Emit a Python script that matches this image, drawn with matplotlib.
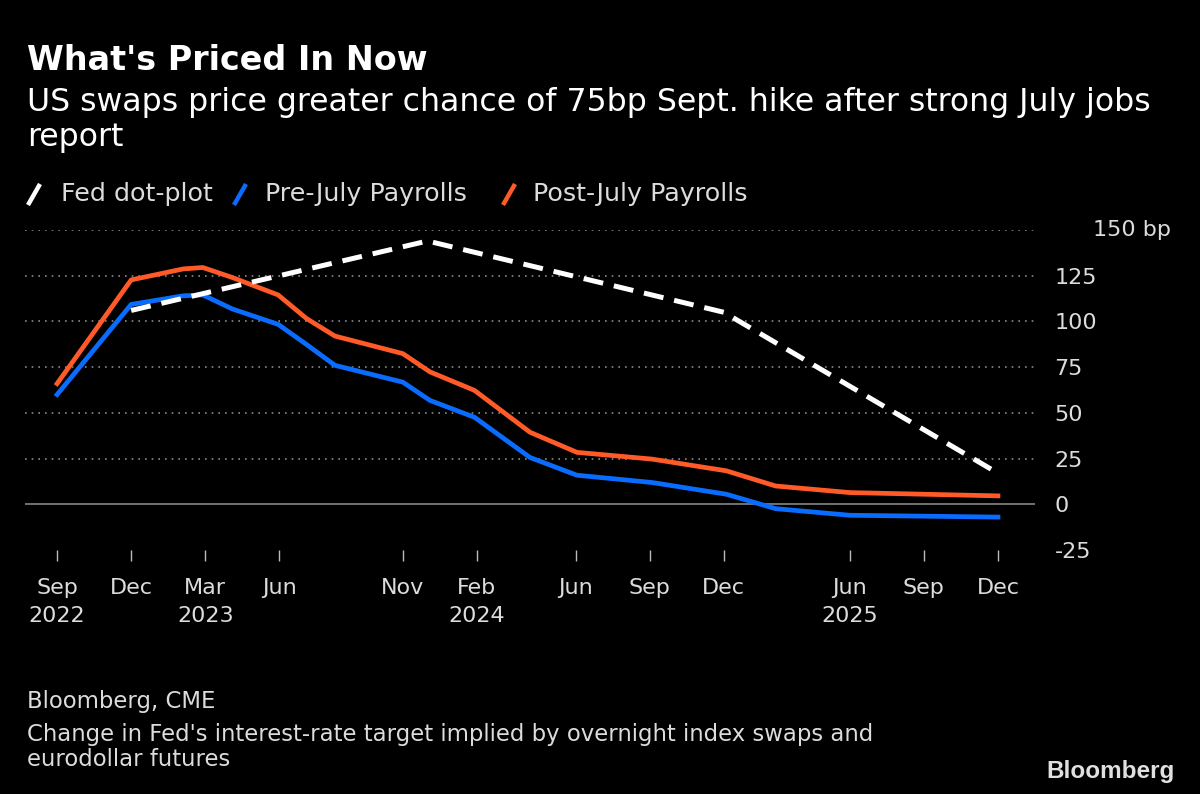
"""What's Priced In Now - US swaps vs Fed dot-plot (Bloomberg style)."""

import matplotlib

matplotlib.use("Agg")
import matplotlib.pyplot as plt
from matplotlib.lines import Line2D

# Data: x in months after Sep 2022 (chart's own time scale)
dot_x = [3, 15, 27, 38.1]
dot_bp = [106, 144, 105, 17]

swap_x = [0, 3, 5.1, 5.9, 7.1, 8.95, 10.1, 11.25, 14, 15.1, 16.9,
          19.15, 21.05, 24.1, 27.1, 29.1, 32.1, 38.1]
post_bp = [66, 122.7, 128.7, 129.5, 124, 114.5, 101.6, 92, 82.4, 72.4,
           62.3, 39.4, 28.4, 24.7, 18.3, 10, 6.4, 4.6]
pre_bp = [60, 109.3, 114, 114.5, 106.8, 98.4, 87.4, 76, 66.8, 56.8,
          47.6, 25.6, 15.9, 11.9, 5.5, -2.4, -6, -7]

tick_x = [0, 3, 6, 9, 14, 17, 21, 24, 27, 32.1, 35.1, 38.1]
tick_labels = ["Sep\n2022", "Dec", "Mar\n2023", "Jun", "Nov", "Feb\n2024",
               "Jun", "Sep", "Dec", "Jun\n2025", "Sep", "Dec"]
y_ticks = [-25, 0, 25, 50, 75, 100, 125, 150]

series_names = ["Fed dot-plot", "Pre-July Payrolls", "Post-July Payrolls"]

WHITE = "#ffffff"
BLUE = "#0a6cff"
ORANGE = "#ff5a28"
TEXT = "#dcdcdc"
GRID = "#8a8a8a"

W, H = 1200, 794
fig = plt.figure(figsize=(W / 100, H / 100), dpi=100, facecolor="black")


def fx(px):
    return px / W


def fy(py):
    return 1 - py / H


ax = fig.add_axes([fx(25), fy(550), fx(1035) - fx(25), fy(230) - fy(550)])
ax.set_facecolor("black")

ax.plot(swap_x, pre_bp, color=BLUE, lw=3.4, solid_joinstyle="round",
        zorder=3)
ax.plot(swap_x, post_bp, color=ORANGE, lw=3.4, solid_joinstyle="round",
        zorder=4)
ax.plot(dot_x, dot_bp, color=WHITE, lw=3.6, dashes=(4, 2.2), zorder=5)

ax.set_xlim(-1.3, 39.6)
ax.set_ylim(-25, 150)

# gridlines
for v in y_ticks[2:]:
    ax.axhline(v, color=GRID, lw=1.2, ls=(0, (1, 3)), zorder=1)
ax.axhline(0, color="#7a7a7a", lw=1.3, zorder=2)

for s in ax.spines.values():
    s.set_visible(False)

ax.set_xticks(tick_x)
ax.set_xticklabels(tick_labels, fontsize=16, color=TEXT,
                   linespacing=1.5)
ax.tick_params(axis="x", length=8, width=1, color="#bbbbbb", pad=12)

ax.yaxis.tick_right()
ax.set_yticks(y_ticks)
ax.set_yticklabels([str(v) for v in y_ticks[:-1]] + [""], fontsize=16,
                   color=TEXT)
ax.tick_params(axis="y", length=0, pad=14)

fig.text(fx(1093), fy(230), "150 bp", fontsize=16, color=TEXT,
         va="center", ha="left")

# titles
fig.text(fx(27), fy(70), "What's Priced In Now", fontsize=24,
         fontweight="bold", color=WHITE, va="baseline")
fig.text(fx(27), fy(111),
         "US swaps price greater chance of 75bp Sept. hike after strong "
         "July jobs", fontsize=22.7, color=WHITE, va="baseline")
fig.text(fx(27), fy(146), "report", fontsize=22.7, color=WHITE,
         va="baseline")

# legend
legend_items = [(28, 61, WHITE), (234, 265, BLUE), (503, 533, ORANGE)]
for (sx, tx, col), name in zip(legend_items, series_names):
    fig.add_artist(Line2D([fx(sx), fx(sx + 12)], [fy(205), fy(184)],
                          color=col, lw=3.2, solid_capstyle="butt"))
    fig.text(fx(tx), fy(194), name, fontsize=18.3, color=TEXT,
             va="center", ha="left")

# footer
fig.text(fx(27), fy(708), "Bloomberg, CME", fontsize=16.4, color=TEXT,
         va="baseline")
fig.text(fx(27), fy(741),
         "Change in Fed's interest-rate target implied by overnight index "
         "swaps and", fontsize=16.4, color=TEXT, va="baseline")
fig.text(fx(27), fy(766), "eurodollar futures", fontsize=16.4, color=TEXT,
         va="baseline")
fig.text(fx(1175), fy(778), "Bloomberg", fontsize=17.5, fontweight="bold",
         family="Liberation Sans", color="#e0e0e0", va="baseline",
         ha="right")

fig.savefig("out.png", dpi=100, facecolor="black")
